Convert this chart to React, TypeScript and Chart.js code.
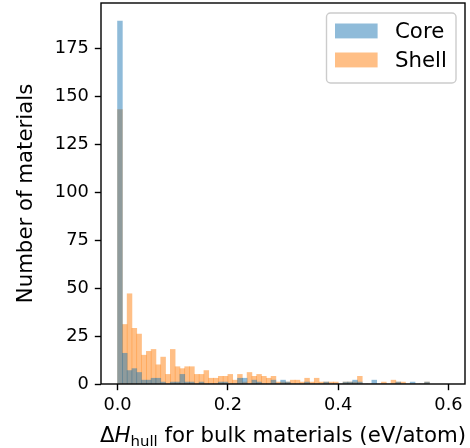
import React, { useEffect, useRef } from 'react';
import { Chart, registerables } from 'chart.js';

Chart.register(...registerables);

// ---- data (histogram counts per bin) ----
const SERIES_LABELS = ['Core', 'Shell'];
const BIN_START = 0;
const BIN_WIDTH = 0.0087;
const CORE_COUNTS = [
  189, 16, 7, 8, 6, 2, 2, 3, 3, 1, 0, 1, 1, 5, 1, 1, 0, 1, 0, 0,
  0, 1, 1, 0, 0, 3, 3, 0, 2, 1, 0, 0, 2, 0, 2, 1, 0, 0, 0, 1,
  0, 0, 0, 1, 0, 0, 0, 1, 1, 2, 1, 0, 0, 2, 0, 0, 0, 0, 1, 0,
  0, 1, 0, 0, 1,
];
const SHELL_COUNTS = [
  143, 31, 47, 29, 26, 15, 17, 18, 10, 14, 5, 18, 9, 8, 9, 9, 5, 5, 7, 3,
  3, 4, 4, 5, 2, 5, 1, 6, 4, 5, 4, 3, 4, 1, 1, 1, 2, 2, 1, 3,
  1, 3, 1, 1, 1, 1, 0, 1, 1, 1, 4, 0, 0, 0, 0, 1, 0, 2, 1, 1,
  0, 0, 0, 0, 1,
];
const X_MIN = -0.03;
const X_MAX = 0.63;
const X_STEP = 0.2;
const Y_MIN = 0;
const Y_MAX = 198.45;
const Y_STEP = 25;
const Y_TITLE = 'Number of materials';
const X_TITLE_DELTA = 'Δ';
const X_TITLE_VAR = 'H';
const X_TITLE_SUB = 'hull';
const X_TITLE_REST = ' for bulk materials (eV/atom)';

// ---- styles ----
const COLORS = ['rgba(31,119,180,0.5)', 'rgba(255,127,14,0.5)'];
const FONT = '"DejaVu Sans", "Liberation Sans", sans-serif';
const TICK_SIZE = 17.8;
const LABEL_SIZE = 21.3;
const SPINE = 1.4;
const TICK_LEN = 6.2;

const toPoints = (counts: number[]) =>
  counts.map((c, i) => ({ x: BIN_START + (i + 0.5) * BIN_WIDTH, y: c }));

const framePlugin = {
  id: 'frame',
  afterDatasetsDraw(chart: any) {
    const { ctx, chartArea: a } = chart;
    ctx.save();
    ctx.strokeStyle = '#000';
    ctx.lineWidth = SPINE;
    ctx.strokeRect(a.left, a.top, a.right - a.left, a.bottom - a.top);
    ctx.restore();
  },
};

const xTitlePlugin = {
  id: 'xTitle',
  afterDraw(chart: any) {
    const { ctx, chartArea: a } = chart;
    const parts = [
      { t: X_TITLE_DELTA, f: `${LABEL_SIZE}px ${FONT}`, dy: 0 },
      { t: X_TITLE_VAR, f: `italic ${LABEL_SIZE}px ${FONT}`, dy: 0 },
      { t: X_TITLE_SUB, f: `${LABEL_SIZE * 0.7}px ${FONT}`, dy: 4 },
      { t: X_TITLE_REST, f: `${LABEL_SIZE}px ${FONT}`, dy: 0 },
    ];
    ctx.save();
    ctx.fillStyle = '#000';
    ctx.textBaseline = 'alphabetic';
    ctx.textAlign = 'left';
    let total = 0;
    const widths = parts.map((p) => {
      ctx.font = p.f;
      const w = ctx.measureText(p.t).width;
      total += w;
      return w;
    });
    let x = (a.left + a.right) / 2 - total / 2;
    const baseline = 442;
    parts.forEach((p, i) => {
      ctx.font = p.f;
      ctx.fillText(p.t, x, baseline + p.dy);
      x += widths[i];
    });
    ctx.restore();
  },
};

const legendPlugin = {
  id: 'boxLegend',
  afterDraw(chart: any) {
    const { ctx } = chart;
    const bx = 326.5, by = 13, bw = 129.5, bh = 70, r = 4;
    ctx.save();
    ctx.beginPath();
    ctx.moveTo(bx + r, by);
    ctx.arcTo(bx + bw, by, bx + bw, by + bh, r);
    ctx.arcTo(bx + bw, by + bh, bx, by + bh, r);
    ctx.arcTo(bx, by + bh, bx, by, r);
    ctx.arcTo(bx, by, bx + bw, by, r);
    ctx.closePath();
    ctx.fillStyle = 'rgba(255,255,255,0.8)';
    ctx.fill();
    ctx.strokeStyle = '#cccccc';
    ctx.lineWidth = 1.4;
    ctx.stroke();
    ctx.font = `${LABEL_SIZE}px ${FONT}`;
    ctx.textBaseline = 'middle';
    ctx.textAlign = 'left';
    chart.data.datasets.forEach((ds: any, i: number) => {
      const cy = 31 + i * 29;
      ctx.fillStyle = ds.backgroundColor;
      ctx.fillRect(335, cy - 7.5, 42.6, 14.9);
      ctx.fillStyle = '#000';
      ctx.fillText(ds.label, 395, cy + 1);
    });
    ctx.restore();
  },
};

export default function App() {
  const ref = useRef<HTMLCanvasElement>(null);

  useEffect(() => {
    document.body.style.margin = '0';
    const canvas = ref.current;
    if (!canvas) return;
    const chart = new Chart(canvas, {
      type: 'bar',
      data: {
        datasets: [CORE_COUNTS, SHELL_COUNTS].map((counts, i) => ({
          label: SERIES_LABELS[i],
          data: toPoints(counts),
          backgroundColor: COLORS[i],
          borderWidth: 0,
          barPercentage: 1,
          categoryPercentage: 1,
          grouped: false,
        })),
      },
      options: {
        responsive: false,
        animation: false,
        layout: { padding: { left: 0, right: 5, top: 3, bottom: 0 } },
        plugins: {
          legend: { display: false },
          tooltip: { enabled: false },
        },
        scales: {
          x: {
            type: 'linear',
            min: X_MIN,
            max: X_MAX,
            offset: false,
            border: { display: false },
            grid: {
              offset: false,
              drawOnChartArea: false,
              drawTicks: true,
              tickLength: TICK_LEN,
              tickWidth: SPINE,
              tickColor: '#000',
            },
            ticks: {
              stepSize: X_STEP,
              includeBounds: false,
              color: '#000',
              padding: 5,
              maxRotation: 0,
              font: { family: FONT, size: TICK_SIZE },
              callback: (v: any) => Number(v).toFixed(1),
            },
            afterFit: (s: any) => {
              s.height = 64;
              s.paddingLeft = 0;
              s.paddingRight = 0;
            },
          },
          y: {
            min: Y_MIN,
            max: Y_MAX,
            border: { display: false },
            grid: {
              drawOnChartArea: false,
              drawTicks: true,
              tickLength: TICK_LEN,
              tickWidth: SPINE,
              tickColor: '#000',
            },
            ticks: {
              stepSize: Y_STEP,
              includeBounds: false,
              color: '#000',
              padding: 6,
              font: { family: FONT, size: TICK_SIZE },
            },
            title: {
              display: true,
              text: Y_TITLE,
              color: '#000',
              font: { family: FONT, size: LABEL_SIZE },
              padding: { top: 14, bottom: 0 },
            },
            afterFit: (s: any) => {
              s.width = 101;
              s.paddingTop = 0;
              s.paddingBottom = 0;
            },
          },
        },
      } as any,
      plugins: [framePlugin, xTitlePlugin, legendPlugin],
    });
    return () => chart.destroy();
  }, []);

  return (
    <div style={{ position: 'absolute', left: 0, top: 0, width: 470, height: 448 }}>
      <canvas ref={ref} width={470} height={448} style={{ display: 'block' }} />
    </div>
  );
}
